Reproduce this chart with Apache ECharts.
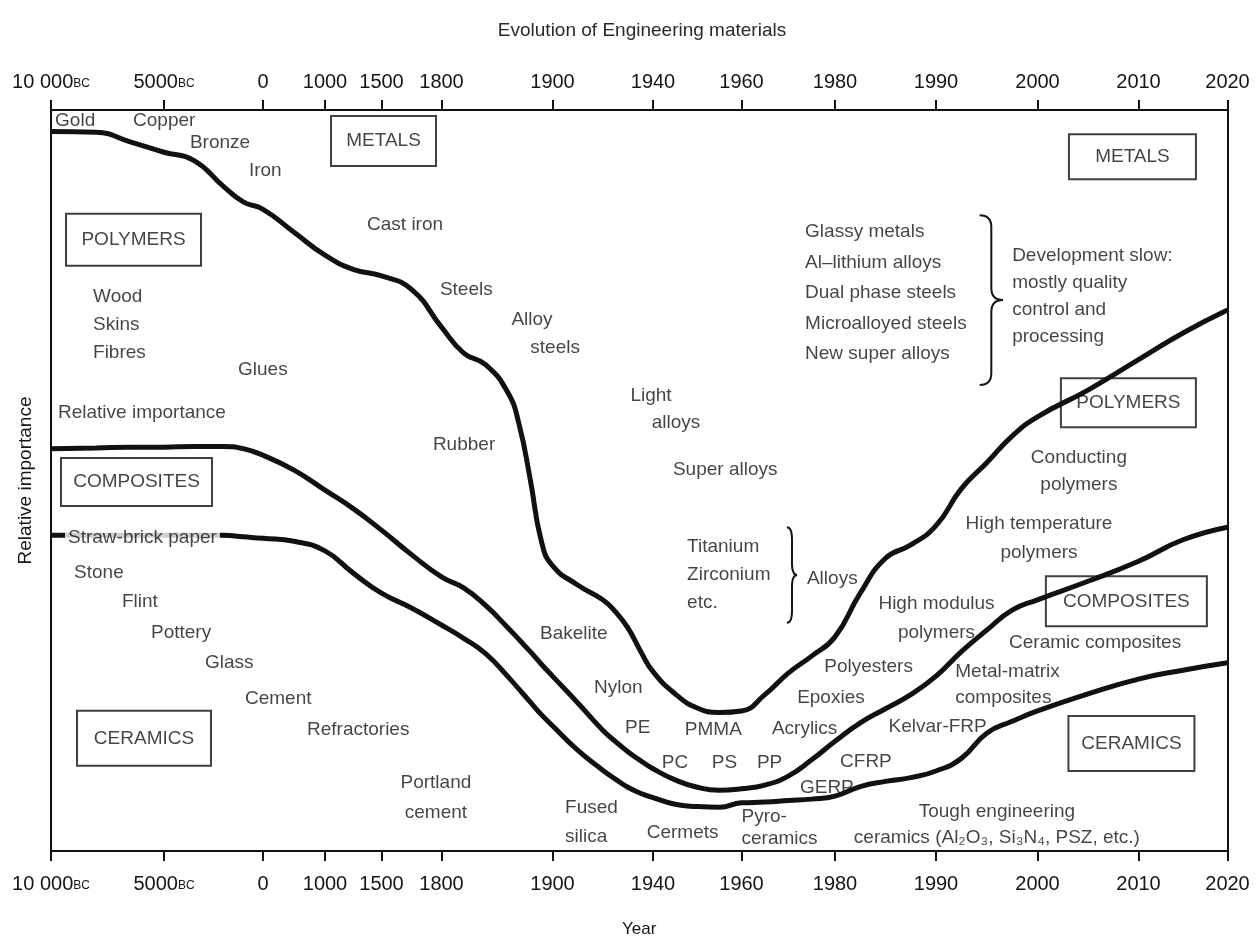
<!DOCTYPE html>
<html>
<head>
<meta charset="utf-8">
<title>Evolution of Engineering materials</title>
<script src="https://cdn.jsdelivr.net/npm/echarts@6/dist/echarts.min.js"></script>
<style>
  html, body { margin: 0; padding: 0; background: #fff; }
  #chart { width: 1260px; height: 944px; }
</style>
</head>
<body>
<div id="chart"></div>
<script>
// the time axis of the original is stretched by hand, so every tick keeps its own spacing
var tickYears = [-10000, -5000, 0, 1000, 1500, 1800, 1900, 1940, 1960, 1980, 1990, 2000, 2010, 2020];
var tickSpacing = [0, 113, 212, 274, 330.5, 390.5, 501.5, 602, 690.5, 784, 885, 986.5, 1087.5, 1176.5];
var tickLabels = ['10 000{bc|BC}', '5000{bc|BC}', '0', '1000', '1500', '1800', '1900',
                  '1940', '1960', '1980', '1990', '2000', '2010', '2020'];

// relative importance (0-100) of the boundaries between material classes
var years = [-10000, -8000, -6500, -5000, -3500, -2000, -1000, 0, 500, 1000, 1250, 1500, 1650,
             1800, 1820, 1840, 1860, 1870, 1880, 1890, 1900, 1910, 1920, 1925, 1930, 1935,
             1940, 1945, 1950, 1955, 1960, 1965, 1970, 1975, 1980, 1982.5, 1985, 1987.5,
             1990, 1992.5, 1995, 1997.5, 2000, 2005, 2010, 2015, 2020];
var metalsEdge = [97.1, 97.0, 95.7, 94.3, 93.2, 89.7, 87.6, 86.6, 83.5, 80.4, 78.5, 77.6, 75.8,
                  70.7, 67.2, 65.6, 61.8, 57.5, 50.1, 41.8, 38.5, 35.9, 33.9, 32.3, 30.1, 27.0,
                  24.2, 21.2, 19.3, 18.7, 18.9, 21.1, 24.0, 26.3, 28.9, 34.8, 39.5, 41.3,
                  43.9, 48.9, 52.4, 56.0, 58.6, 62.2, 66.3, 69.9, 73.0];
var polymersEdge = [54.3, 54.4, 54.5, 54.5, 54.6, 54.6, 54.3, 53.4, 51.4, 48.7, 46.2, 43.3, 40.0,
                    37.0, 35.5, 33.1, 30.1, 28.5, 26.9, 25.2, 23.6, 20.0, 16.3, 14.8, 13.4, 12.2,
                    11.1, 9.6, 8.6, 8.2, 8.4, 8.9, 10.1, 12.3, 14.8, 17.3, 19.2, 21.1,
                    23.6, 26.9, 29.8, 32.5, 33.9, 36.4, 39.1, 42.0, 43.7];
var compositesEdge = [42.6, 42.6, 42.6, 42.6, 42.6, 42.6, 42.4, 42.2, 41.8, 40.5, 37.5, 34.8, 32.8,
                      30.5, 28.7, 26.6, 23.5, 21.8, 20.1, 18.4, 16.9, 13.6, 10.9, 9.7, 8.6, 7.8,
                      7.2, 6.3, 6.0, 5.9, 6.5, 6.6, 6.8, 7.0, 7.4, 8.7, 9.4, 9.9,
                      10.8, 12.5, 15.9, 17.5, 18.9, 21.2, 23.2, 24.4, 25.4];

// notes: [text, year, relative importance]; text starts at the given point
var notes = [
  ['Gold', -9820, 98.6], ['Copper', -6370, 98.6], ['Bronze', -3690, 95.6], ['Iron', -710, 91.8],
  ['Cast iron', 1372, 84.5], ['Wood', -8140, 74.8], ['Skins', -8140, 71.0], ['Fibres', -8140, 67.3],
  ['Glues', -1260, 64.9], ['Relative importance', -9690, 59.1], ['Straw-brick paper', -9380, 42.3],
  ['Stone', -8980, 37.5], ['Flint', -6860, 33.6], ['Pottery', -5575, 29.4], ['Glass', -2930, 25.4],
  ['Cement', -910, 20.5], ['Refractories', 710, 16.3],
  ['Steels', 1792, 75.7], ['Alloy', 1863, 71.7], ['steels', 1880, 67.9], ['Rubber', 1757, 54.8],
  ['Light', 1931, 61.5], ['alloys', 1939.5, 57.8], ['Super alloys', 1944.5, 51.4],
  ['Glassy metals\nAl\u2013lithium alloys\nDual phase steels\nMicroalloyed steels\nNew super alloys', 1973.6, 75.3],
  ['Development slow:\nmostly quality\ncontrol and\nprocessing', 1997.5, 74.9],
  ['Titanium\nZirconium\netc.', 1947.7, 37.3], ['Alloys', 1974.0, 36.8],
  ['Ceramic composites', 1997.2, 28.1], ['Polyesters', 1977.7, 24.8],
  ['Metal-matrix\ncomposites', 1991.9, 22.4], ['Epoxies', 1971.9, 20.7], ['Acrylics', 1966.5, 16.5],
  ['Kelvar-FRP', 1985.3, 16.7], ['CFRP', 1980.5, 12.0], ['GERP', 1972.5, 8.5],
  ['Bakelite', 1888.7, 29.3], ['Nylon', 1916.5, 22.0], ['PE', 1928.9, 16.6], ['PMMA', 1947.2, 16.3],
  ['PC', 1942.0, 11.9], ['PS', 1953.3, 11.9], ['PP', 1963.3, 11.9],
  ['Fused\nsilica', 1905.0, 3.85], ['Cermets', 1937.5, 2.4], ['Pyro-\nceramics', 1960.0, 3.2]
];
// notes centred on the given point
var centredNotes = [
  ['Portland\ncement', 1772, 7.15],
  ['Conducting\npolymers', 2004.1, 51.2],
  ['High temperature\npolymers', 2000.15, 42.2],
  ['High modulus\npolymers', 1990.05, 31.4],
  ['Tough engineering\nceramics (Al\u2082O\u2083, Si\u2083N\u2084, PSZ, etc.)', 1996.0, 3.5]
];
// boxed class names, centred on the point
var boxes = [
  ['METALS', 1510, 95.8], ['METALS', 2009.4, 93.7],
  ['POLYMERS', -6349, 82.5], ['POLYMERS', 2009.0, 60.5],
  ['COMPOSITES', -6217, 49.8], ['COMPOSITES', 2008.8, 33.7],
  ['CERAMICS', -5885, 15.2], ['CERAMICS', 2009.3, 14.5]
];
// braces: [from year, to year, top, bottom]
var braces = [[1994.3, 1996.6, 85.8, 62.9], [1969.7, 1971.9, 43.7, 30.8]];

var boxSizes = [[107, 52], [129, 47], [137, 54], [137, 51], [153, 50], [163, 52], [136, 57], [128, 57]];
var lineGaps = { Glassy: 30.5, Development: 27, Pyro: 22, Metal: 26, Fused: 29, Portland: 30,
                 High: 29, Conducting: 27, Tough: 26, Titanium: 28 };

var ink = '#151515';
var font = 'Liberation Sans';

function yearToPos(y) {
  for (var i = 1; i < tickYears.length; i++) {
    if (y <= tickYears[i]) {
      var t = (y - tickYears[i - 1]) / (tickYears[i] - tickYears[i - 1]);
      return tickSpacing[i - 1] + t * (tickSpacing[i] - tickSpacing[i - 1]);
    }
  }
  return tickSpacing[tickSpacing.length - 1];
}

function timeAxis(pos) {
  var ax = {
    type: 'value', position: pos, min: 0, max: tickSpacing[tickSpacing.length - 1],
    axisLine: { show: true, onZero: false, lineStyle: { color: '#111', width: 2 } },
    axisTick: { show: true, customValues: tickSpacing, length: 10, lineStyle: { color: '#111', width: 2 } },
    axisLabel: {
      customValues: tickSpacing, margin: pos === 'top' ? 18 : 23,
      fontSize: 20, color: ink, fontFamily: font,
      formatter: function (v) { return tickLabels[tickSpacing.indexOf(v)]; },
      rich: { bc: { fontSize: 12, color: ink, fontFamily: font, verticalAlign: 'bottom', padding: [0, 0, 2, 0] } }
    },
    splitLine: { show: false }
  };
  if (pos === 'bottom') {
    ax.name = 'Year';
    ax.nameLocation = 'middle';
    ax.nameGap = 70;
    ax.nameTextStyle = { fontSize: 17, color: ink, fontFamily: font };
  }
  return ax;
}

function edgeSeries(vals) {
  return {
    type: 'line', silent: true, z: 3, symbol: 'none', smooth: 0.5,
    lineStyle: { color: '#111', width: 5 },
    data: years.map(function (y, i) { return [yearToPos(y), vals[i]]; })
  };
}

function gapFor(text) {
  var key = text.split(/[\s\-]/)[0];
  return lineGaps[key] || 28;
}

function noteItem(n, align) {
  var item = {
    name: n[0], value: [yearToPos(n[1]), n[2]],
    label: { align: align, lineHeight: gapFor(n[0]) }
  };
  if (n[0] === 'Straw-brick paper') {
    item.label.backgroundColor = '#fff';
    item.label.padding = [0, 3];
  }
  return item;
}

var noteLabel = {
  show: true, position: [0, 0], verticalAlign: 'middle', formatter: '{b}',
  fontSize: 19, color: ink, fontFamily: font
};

var chart = echarts.init(document.getElementById('chart'));
chart.setOption({
  animation: false,
  backgroundColor: '#fff',
  title: {
    text: 'Evolution of Engineering materials', left: 637, top: 16, textAlign: 'center',
    textStyle: { fontSize: 19, fontWeight: 'normal', color: '#2a2a2a', fontFamily: font }
  },
  grid: { left: 51, right: 32.5, top: 110, bottom: 93 },
  xAxis: [timeAxis('bottom'), timeAxis('top')],
  yAxis: [
    {
      type: 'value', position: 'left', min: 0, max: 100,
      name: 'Relative importance', nameLocation: 'middle', nameGap: 16, nameRotate: 90,
      nameTextStyle: { fontSize: 19, color: ink, fontFamily: font },
      axisLine: { show: true, onZero: false, lineStyle: { color: '#111', width: 2 } },
      axisTick: { show: false }, axisLabel: { show: false }, splitLine: { show: false }
    },
    {
      type: 'value', position: 'right', min: 0, max: 100,
      axisLine: { show: true, onZero: false, lineStyle: { color: '#111', width: 2 } },
      axisTick: { show: false }, axisLabel: { show: false }, splitLine: { show: false }
    }
  ],
  series: [
    edgeSeries(metalsEdge),
    edgeSeries(polymersEdge),
    edgeSeries(compositesEdge),
    {
      type: 'scatter', silent: true, z: 5, symbolSize: 0,
      label: noteLabel,
      data: notes.map(function (n) { return noteItem(n, 'left'); })
        .concat(centredNotes.map(function (n) { return noteItem(n, 'center'); }))
    },
    {
      type: 'scatter', silent: true, z: 5, symbolSize: 0,
      label: {
        show: true, position: [0, 0], align: 'center', verticalAlign: 'middle', formatter: '{b}',
        fontSize: 19, color: ink, fontFamily: font, borderColor: '#111', borderWidth: 2, padding: 0
      },
      data: boxes.map(function (b, i) {
        return {
          name: b[0], value: [yearToPos(b[1]), b[2]],
          label: { width: boxSizes[i][0] - 2, lineHeight: boxSizes[i][1] - 2 }
        };
      })
    },
    {
      type: 'custom', silent: true, z: 4,
      data: braces.map(function (b) { return [yearToPos(b[0]), yearToPos(b[1]), b[2], b[3]]; }),
      renderItem: function (params, api) {
        var a = api.coord([api.value(0), api.value(2)]);
        var b = api.coord([api.value(1), api.value(3)]);
        var xl = a[0], xr = b[0], xm = (xl + xr) / 2;
        var yt = a[1], yb = b[1], ym = (yt + yb) / 2;
        var d = Math.min(12, (yb - yt) / 4);
        var path = 'M' + xl + ' ' + yt + ' Q' + xm + ' ' + yt + ' ' + xm + ' ' + (yt + d) +
          ' L' + xm + ' ' + (ym - d) + ' Q' + xm + ' ' + ym + ' ' + xr + ' ' + ym +
          ' Q' + xm + ' ' + ym + ' ' + xm + ' ' + (ym + d) +
          ' L' + xm + ' ' + (yb - d) + ' Q' + xm + ' ' + yb + ' ' + xl + ' ' + yb;
        return { type: 'path', shape: { pathData: path }, style: { fill: 'none', stroke: ink, lineWidth: 2 } };
      }
    }
  ]
});
window.addEventListener('resize', chart.resize);
</script>
</body>
</html>
